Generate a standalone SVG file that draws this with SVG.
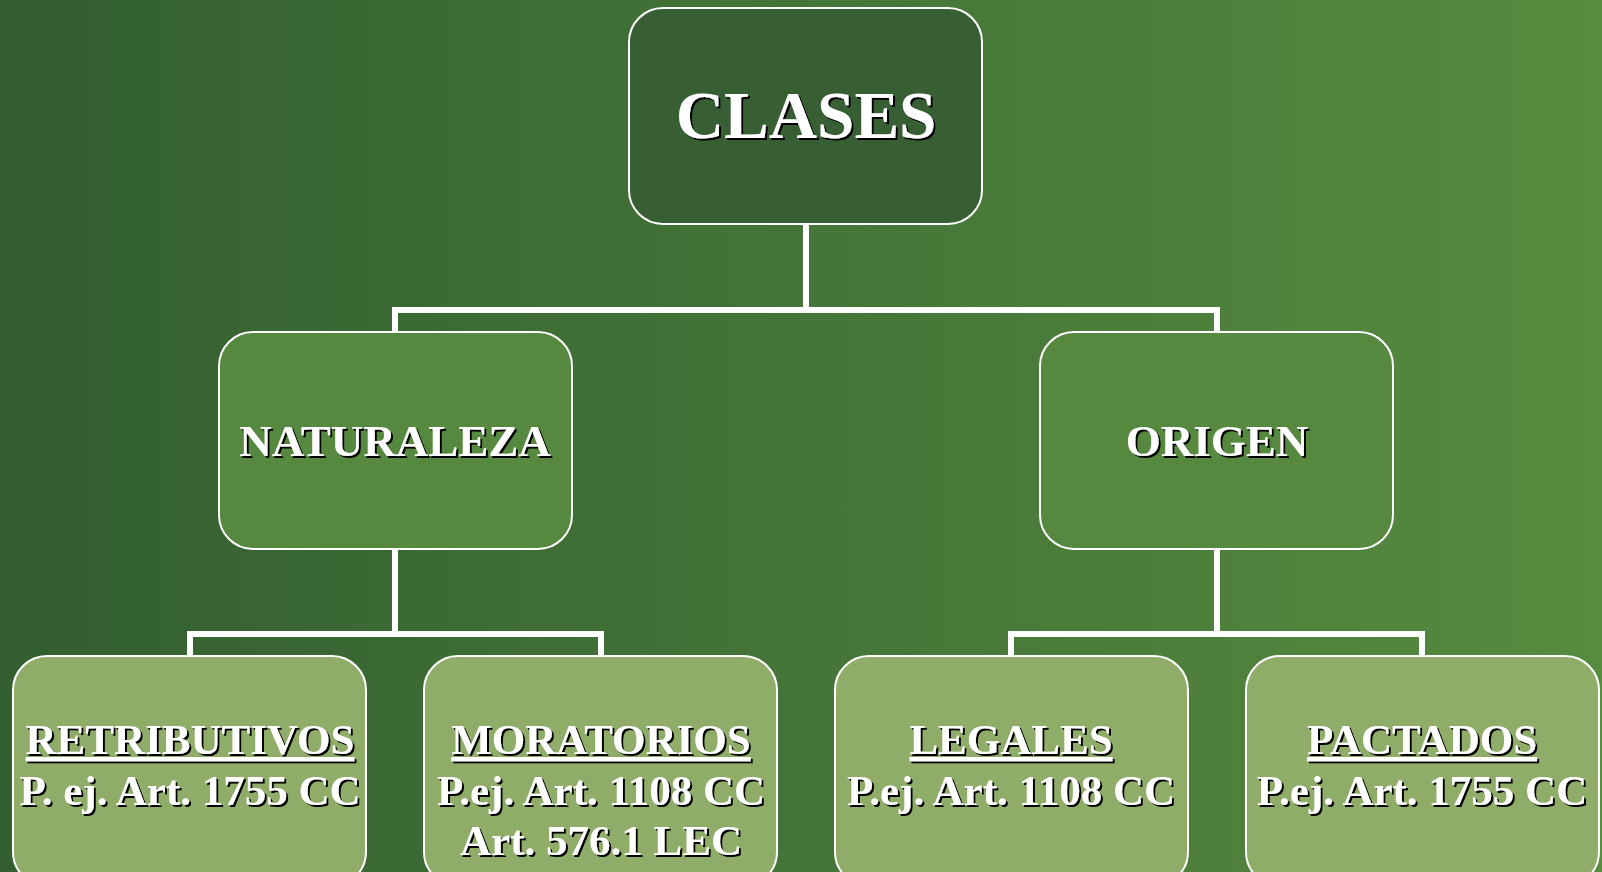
<svg xmlns="http://www.w3.org/2000/svg" width="1602" height="872" viewBox="0 0 1602 872">
<defs>
<linearGradient id="bg" x1="0" y1="0" x2="1" y2="0">
<stop offset="0" stop-color="#325e30"/>
<stop offset="1" stop-color="#578b3f"/>
</linearGradient>
<filter id="sh" x="-5%" y="-20%" width="110%" height="140%">
<feDropShadow dx="2" dy="2" stdDeviation="0.4" flood-color="#000" flood-opacity="1"/>
</filter>
</defs>
<style>
.box{stroke:#fff;stroke-width:2}
.top{fill:#385f33}
.mid{fill:#56893f}
.leaf{fill:#8fac69}
.conn{fill:none;stroke:#fff;stroke-width:6}
text{font-family:"Liberation Serif","Times New Roman",serif;font-weight:bold;fill:#fff;text-anchor:middle;filter:url(#sh)}
.t1{font-size:67px}
.t2{font-size:45px}
.t3{font-size:43px}
.u{text-decoration:underline}
</style>
<rect width="1602" height="872" fill="url(#bg)"/>
<g id="connectors">
<path class="conn" d="M806 224V310M395 332V310H1217V332"/>
<path class="conn" d="M395 549V634M190 656V634H601V656"/>
<path class="conn" d="M1217 549V634M1011 656V634H1422V656"/>
</g>
<g id="clases">
<rect class="box top" x="629" y="8" width="353" height="216" rx="34"/>
<text class="t1" x="806" y="138">CLASES</text>
</g>
<g id="naturaleza">
<rect class="box mid" x="219" y="332" width="353" height="217" rx="34"/>
<text class="t2" x="395" y="456">NATURALEZA</text>
</g>
<g id="origen">
<rect class="box mid" x="1040" y="332" width="353" height="217" rx="34"/>
<text class="t2" x="1217" y="456">ORIGEN</text>
</g>
<g id="retributivos">
<rect class="box leaf" x="13" y="656" width="353" height="230" rx="34"/>
<text class="t3 u" x="190" y="754">RETRIBUTIVOS</text>
<text class="t3" x="190" y="805">P. ej. Art. 1755 CC</text>
</g>
<g id="moratorios">
<rect class="box leaf" x="424" y="656" width="353" height="230" rx="34"/>
<text class="t3 u" x="601" y="754">MORATORIOS</text>
<text class="t3" x="601" y="805">P.ej. Art. 1108 CC</text>
<text class="t3" x="601" y="855">Art. 576.1 LEC</text>
</g>
<g id="legales">
<rect class="box leaf" x="835" y="656" width="353" height="230" rx="34"/>
<text class="t3 u" x="1011" y="754">LEGALES</text>
<text class="t3" x="1011" y="805">P.ej. Art. 1108 CC</text>
</g>
<g id="pactados">
<rect class="box leaf" x="1246" y="656" width="353" height="230" rx="34"/>
<text class="t3 u" x="1422" y="754">PACTADOS</text>
<text class="t3" x="1422" y="805">P.ej. Art. 1755 CC</text>
</g>
</svg>
